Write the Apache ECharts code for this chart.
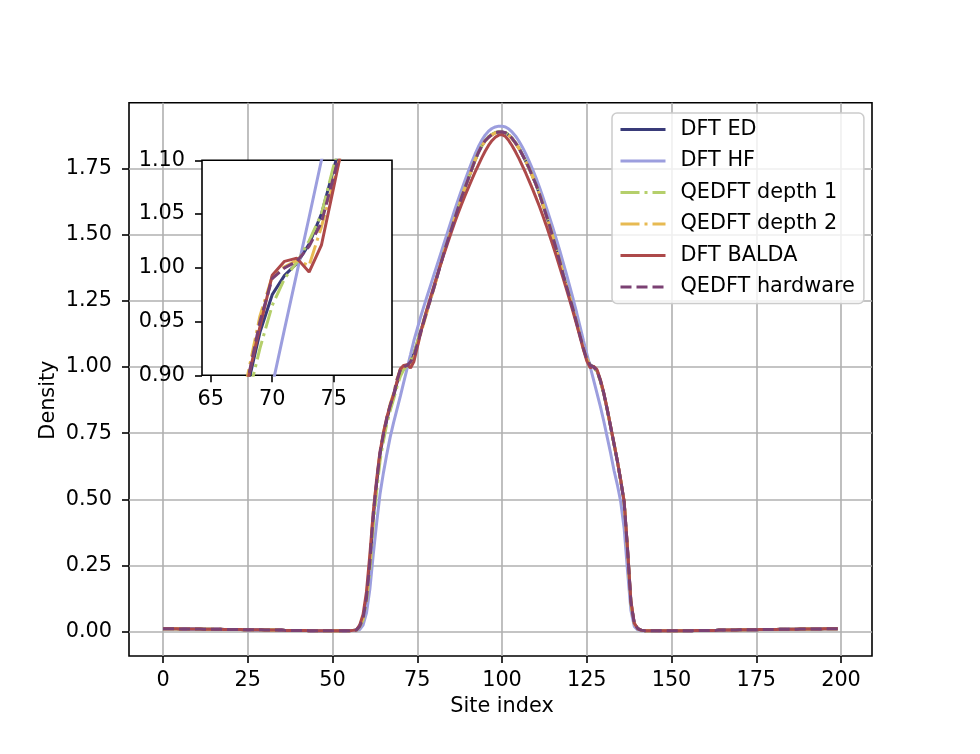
<!DOCTYPE html>
<html>
<head>
<meta charset="utf-8">
<script src="https://cdn.jsdelivr.net/npm/echarts@6/dist/echarts.min.js"></script>
<style>
    body { margin: 0; background: #fff; }
    #main { width: 980px; height: 754px; }
</style>
</head>
<body>
<div id="main"></div>
<script>
// site values
var names = ['DFT ED', 'DFT HF', 'QEDFT depth 1', 'QEDFT depth 2', 'DFT BALDA', 'QEDFT hardware']
var colors = ['#393b79', '#9c9ede', '#b5cf6b', '#e7ba52', '#ad494a', '#7b4173']

// sites 0..56, same for every curve
var leftTail = [
    0.011, 0.011, 0.011, 0.011, 0.011, 0.010, 0.010, 0.010, 0.010, 0.010,
    0.010, 0.010, 0.009, 0.009, 0.009, 0.009, 0.009, 0.009, 0.008, 0.008,
    0.008, 0.008, 0.008, 0.008, 0.007, 0.007, 0.007, 0.007, 0.007, 0.007,
    0.006, 0.006, 0.006, 0.006, 0.006, 0.006, 0.005, 0.005, 0.005, 0.005,
    0.005, 0.005, 0.005, 0.004, 0.004, 0.004, 0.004, 0.004, 0.004, 0.004,
    0.004, 0.004, 0.004, 0.004, 0.004, 0.004, 0.005
]
// sites 143..199
var rightTail = [
    0.004, 0.004, 0.004, 0.004, 0.004, 0.004, 0.004, 0.004, 0.004, 0.004,
    0.004, 0.004, 0.004, 0.004, 0.005, 0.005, 0.005, 0.005, 0.005, 0.005,
    0.005, 0.006, 0.006, 0.006, 0.006, 0.006, 0.006, 0.007, 0.007, 0.007,
    0.007, 0.007, 0.007, 0.008, 0.008, 0.008, 0.008, 0.008, 0.008, 0.009,
    0.009, 0.009, 0.009, 0.009, 0.009, 0.010, 0.010, 0.010, 0.010, 0.010,
    0.010, 0.010, 0.011, 0.011, 0.011, 0.011, 0.011
]

// sites 57..142
var dftEd = [
    0.006, 0.02, 0.05, 0.12, 0.25, 0.43, 0.56, 0.67, 0.74, 0.80,
    0.85, 0.89, 0.94, 0.975, 0.993, 1.004, 1.022, 1.05, 1.092, 1.135,
    1.178, 1.22, 1.262, 1.305, 1.35, 1.395, 1.44, 1.48, 1.52, 1.56,
    1.60, 1.64, 1.675, 1.71, 1.745, 1.78, 1.81, 1.835, 1.855, 1.868,
    1.878, 1.885, 1.888, 1.888, 1.885, 1.876, 1.863, 1.846, 1.826, 1.802,
    1.777, 1.75, 1.72, 1.69, 1.655, 1.615, 1.575, 1.535, 1.49, 1.445,
    1.40, 1.35, 1.305, 1.26, 1.215, 1.17, 1.12, 1.072, 1.032, 1.008,
    1.0, 0.985, 0.948, 0.90, 0.84, 0.775, 0.71, 0.645, 0.57, 0.49,
    0.31, 0.11, 0.03, 0.012, 0.006, 0.004
]
var dftHf = [
    0.004, 0.008, 0.025, 0.07, 0.16, 0.29, 0.41, 0.52, 0.60, 0.67,
    0.735, 0.79, 0.84, 0.89, 0.943, 0.995, 1.047, 1.10, 1.145, 1.19,
    1.232, 1.272, 1.312, 1.352, 1.392, 1.432, 1.472, 1.512, 1.552, 1.592,
    1.63, 1.667, 1.703, 1.738, 1.772, 1.803, 1.832, 1.856, 1.876, 1.891,
    1.901, 1.907, 1.91, 1.91, 1.907, 1.899, 1.887, 1.872, 1.853, 1.83,
    1.805, 1.777, 1.747, 1.715, 1.68, 1.643, 1.605, 1.565, 1.525, 1.483,
    1.44, 1.395, 1.35, 1.303, 1.255, 1.205, 1.153, 1.10, 1.05, 1.0,
    0.95, 0.90, 0.85, 0.795, 0.735, 0.675, 0.61, 0.555, 0.49, 0.39,
    0.23, 0.08, 0.02, 0.007, 0.004, 0.004
]
var qedftDepth1 = [
    0.005, 0.018, 0.045, 0.11, 0.23, 0.40, 0.53, 0.645, 0.72, 0.785,
    0.835, 0.878, 0.925, 0.965, 0.99, 1.005, 1.025, 1.05, 1.095, 1.14,
    1.182, 1.224, 1.266, 1.308, 1.352, 1.396, 1.44, 1.48, 1.52, 1.56,
    1.60, 1.64, 1.676, 1.712, 1.747, 1.781, 1.811, 1.836, 1.856, 1.87,
    1.879, 1.886, 1.889, 1.889, 1.886, 1.877, 1.864, 1.847, 1.827, 1.803,
    1.778, 1.751, 1.721, 1.691, 1.656, 1.617, 1.577, 1.537, 1.492, 1.447,
    1.402, 1.352, 1.307, 1.262, 1.217, 1.168, 1.118, 1.07, 1.03, 1.006,
    0.998, 0.982, 0.945, 0.897, 0.838, 0.773, 0.708, 0.643, 0.568, 0.488,
    0.305, 0.105, 0.028, 0.011, 0.006, 0.004
]
var qedftDepth2 = [
    0.006, 0.022, 0.055, 0.13, 0.27, 0.45, 0.57, 0.68, 0.75, 0.81,
    0.86, 0.90, 0.955, 0.992, 1.001, 1.007, 1.002, 1.038, 1.08, 1.125,
    1.17, 1.214, 1.258, 1.302, 1.347, 1.392, 1.437, 1.478, 1.518, 1.558,
    1.598, 1.638, 1.674, 1.709, 1.744, 1.779, 1.809, 1.834, 1.854, 1.867,
    1.877, 1.884, 1.887, 1.887, 1.884, 1.875, 1.862, 1.845, 1.825, 1.801,
    1.776, 1.749, 1.719, 1.689, 1.654, 1.614, 1.574, 1.534, 1.489, 1.444,
    1.399, 1.349, 1.304, 1.259, 1.214, 1.165, 1.116, 1.068, 1.028, 1.004,
    1.002, 0.988, 0.95, 0.901, 0.841, 0.776, 0.711, 0.646, 0.571, 0.491,
    0.312, 0.112, 0.031, 0.012, 0.006, 0.004
]
var dftBalda = [
    0.006, 0.025, 0.065, 0.15, 0.29, 0.45, 0.575, 0.68, 0.75, 0.81,
    0.855, 0.895, 0.945, 0.993, 1.006, 1.009, 0.996, 1.021, 1.075, 1.13,
    1.18, 1.225, 1.268, 1.31, 1.352, 1.393, 1.432, 1.47, 1.508, 1.545,
    1.58, 1.613, 1.645, 1.676, 1.706, 1.735, 1.763, 1.79, 1.815, 1.837,
    1.855, 1.868, 1.876, 1.878, 1.871, 1.855, 1.835, 1.812, 1.787, 1.76,
    1.732, 1.702, 1.672, 1.64, 1.607, 1.572, 1.536, 1.498, 1.459, 1.419,
    1.378, 1.336, 1.293, 1.25, 1.206, 1.16, 1.113, 1.066, 1.022, 0.997,
    1.003, 0.99, 0.952, 0.902, 0.842, 0.777, 0.712, 0.645, 0.572, 0.492,
    0.315, 0.115, 0.032, 0.012, 0.006, 0.004
]
var qedftHardware = [
    0.006, 0.02, 0.05, 0.125, 0.26, 0.44, 0.565, 0.675, 0.745, 0.805,
    0.855, 0.895, 0.95, 0.99, 1.0, 1.006, 1.02, 1.042, 1.085, 1.13,
    1.175, 1.218, 1.26, 1.303, 1.348, 1.393, 1.438, 1.479, 1.519, 1.559,
    1.599, 1.639, 1.675, 1.71, 1.745, 1.78, 1.81, 1.835, 1.855, 1.868,
    1.878, 1.885, 1.888, 1.888, 1.885, 1.876, 1.863, 1.846, 1.826, 1.802,
    1.777, 1.75, 1.72, 1.69, 1.655, 1.615, 1.575, 1.535, 1.49, 1.445,
    1.40, 1.35, 1.305, 1.26, 1.215, 1.167, 1.118, 1.07, 1.03, 1.006,
    1.0, 0.986, 0.948, 0.9, 0.84, 0.775, 0.71, 0.645, 0.57, 0.49,
    0.31, 0.11, 0.03, 0.012, 0.006, 0.004
]
var middles = [dftEd, dftHf, qedftDepth1, qedftDepth2, dftBalda, qedftHardware]

var font = 'DejaVu Sans'
var fs = 20.8
var dashDot = [19, 5, 3, 5]
var dashed = [11, 5]
var lineTypes = ['solid', 'solid', dashDot, dashDot, 'solid', dashed]

function pairs(mid) {
    var vals = leftTail.concat(mid, rightTail)
    var out = []
    for (var i = 0; i < vals.length; i++) {
        out.push([i, vals[i]])
    }
    return out
}

var series = []
for (var k = 0; k < names.length; k++) {
    // main plot
    series.push({
        name: names[k], type: 'line', xAxisIndex: 0, yAxisIndex: 0,
        data: pairs(middles[k]), symbol: 'none', showSymbol: false, clip: true, z: 2,
        itemStyle: { color: colors[k] },
        lineStyle: { color: colors[k], width: 3, type: lineTypes[k] }
    })
}
for (var k = 0; k < names.length; k++) {
    // inset zoom
    series.push({
        name: names[k], type: 'line', xAxisIndex: 3, yAxisIndex: 3,
        data: pairs(middles[k]), symbol: 'none', showSymbol: false, clip: true, z: 5,
        itemStyle: { color: colors[k] },
        lineStyle: { color: colors[k], width: 3, type: lineTypes[k] }
    })
}

var tick = { show: true, length: 7, lineStyle: { color: '#000', width: 1.6 } }
var label = { color: '#000', fontSize: fs, fontFamily: font }
var grid = { show: true, lineStyle: { color: '#b0b0b0', width: 1.6 } }

var myChart = echarts.init(document.getElementById('main'))
myChart.setOption({
    animation: false,
    backgroundColor: '#fff',
    grid: [
        { left: 129, right: 108, top: 102.7, bottom: 98, show: true, borderColor: '#000', borderWidth: 1.6, backgroundColor: 'transparent' },
        { left: 163, right: 139, top: 102.7, bottom: 98 },
        { left: 129, right: 108, top: 168.5, bottom: 122.3 },
        { left: 202, right: 588, top: 160.3, bottom: 378.7, show: true, backgroundColor: '#fff', borderColor: '#000', borderWidth: 1.6, z: 1 },
        { left: 210.7, right: 646.3, top: 160.3, bottom: 378.7 }
    ],
    xAxis: [
        { gridIndex: 0, type: 'value', min: -10.03, max: 209.1, show: false },
        {
            gridIndex: 1, type: 'value', min: 0, max: 200, interval: 25,
            axisLine: { show: false }, axisTick: tick,
            axisLabel: Object.assign({ margin: 14 }, label),
            splitLine: grid,
            name: 'Site index', nameLocation: 'middle', nameGap: 40, nameMoveOverlap: false,
            nameTextStyle: label
        },
        { gridIndex: 2, type: 'value', min: 0, max: 1, show: false },
        { gridIndex: 3, type: 'value', min: 64.29, max: 79.74, show: false },
        {
            gridIndex: 4, type: 'value', min: 65, max: 75, interval: 5,
            axisLine: { show: false }, axisTick: tick,
            axisLabel: Object.assign({ margin: 14 }, label),
            splitLine: { show: false }
        }
    ],
    yAxis: [
        { gridIndex: 0, type: 'value', min: -0.0918, max: 1.9985, show: false },
        { gridIndex: 1, type: 'value', min: 0, max: 1, show: false },
        {
            gridIndex: 2, type: 'value', min: 0, max: 1.75, interval: 0.25,
            axisLine: { show: false }, axisTick: tick,
            axisLabel: Object.assign({ margin: 17, formatter: function (v) { return v.toFixed(2) } }, label),
            splitLine: grid,
            name: 'Density', nameLocation: 'middle', nameGap: 70, nameMoveOverlap: false,
            nameTextStyle: label
        },
        {
            gridIndex: 3, type: 'value', min: 0.9, max: 1.1, interval: 0.05,
            axisLine: { show: false }, axisTick: tick,
            axisLabel: Object.assign({ margin: 17, formatter: function (v) { return v.toFixed(2) } }, label),
            splitLine: { show: false }
        },
        { gridIndex: 4, type: 'value', min: 0, max: 1, show: false }
    ],
    legend: {
        orient: 'vertical', left: 612, top: 113,
        itemWidth: 45, itemHeight: 14, itemGap: 10.5,
        padding: [6, 9, 6, 7],
        backgroundColor: 'rgba(255,255,255,0.8)',
        borderColor: '#cccccc', borderWidth: 1.5, borderRadius: 5,
        itemStyle: { opacity: 0 },
        lineStyle: { width: 3 },
        textStyle: { color: '#000', fontSize: fs, fontFamily: font, padding: [0, 0, 0, 10] },
        data: names
    },
    series: series
})
</script>
</body>
</html>
